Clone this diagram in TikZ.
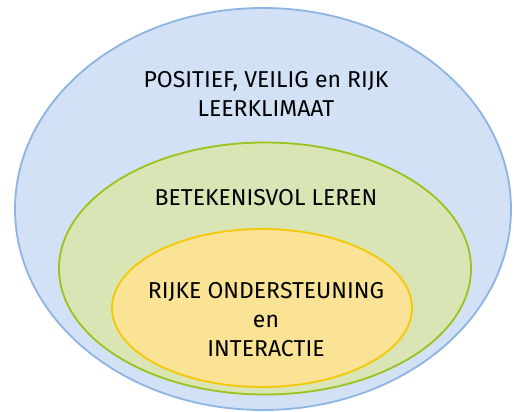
\documentclass[tikz,border=0pt]{standalone}
\usepackage{fontspec}
\setmainfont{Fira Sans}
\definecolor{bluefill}{HTML}{D2E1F6}
\definecolor{bluedraw}{HTML}{8CB5E2}
\definecolor{greenfill}{HTML}{D9E5B5}
\definecolor{greendraw}{HTML}{9BC31C}
\definecolor{yellowfill}{HTML}{FBE395}
\definecolor{yellowdraw}{HTML}{F6C800}
\begin{document}
\begin{tikzpicture}[x=1pt,y=-1pt,
  ring/.style={line width=1.8pt},
  lbl/.style={font=\fontsize{23}{29}\selectfont, align=center, text=black, inner sep=0pt}]
\useasboundingbox (0,0) rectangle (514,412);
\fill[white] (0,0) rectangle (514,412);
\draw[ring, draw=bluedraw, fill=bluefill] (263,209) ellipse [x radius=248, y radius=201];
\draw[ring, draw=greendraw, fill=greenfill] (265,268.5) ellipse [x radius=206, y radius=126];
\draw[ring, draw=yellowdraw, fill=yellowfill] (262,308) ellipse [x radius=150, y radius=79];
\node[lbl] (outer) at (266,94) {POSITIEF, VEILIG en RIJK\\LEERKLIMAAT};
\node[lbl] (middle) at (266,198) {BETEKENISVOL LEREN};
\node[lbl] (inner) at (266,320) {RIJKE ONDERSTEUNING\\en\\INTERACTIE};
\end{tikzpicture}
\end{document}
